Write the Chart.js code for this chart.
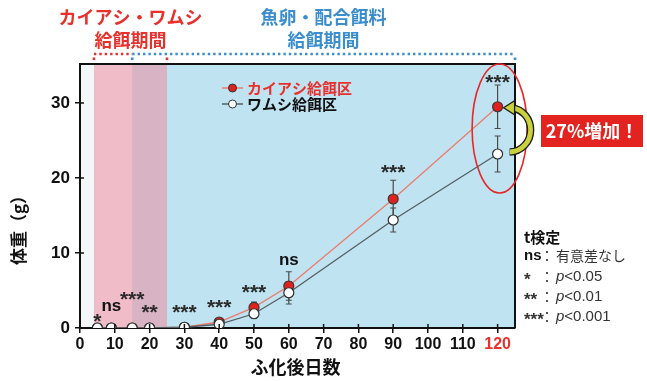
<!DOCTYPE html>
<html>
<head>
<meta charset="utf-8">
<script src="https://cdn.jsdelivr.net/npm/chart.js@4/dist/chart.umd.min.js"></script>
<style>
  html, body { margin: 0; padding: 0; background: #ffffff; }
  #wrap { width: 647px; height: 381px; position: relative; }
</style>
</head>
<body>
<div id="wrap"><canvas id="c"></canvas></div>
<script>
// Body weight (g) by days after hatching, mean ± SD
const days          = [5, 9, 15, 20, 30, 40, 50, 60, 90, 120];
const copepodMean   = [0, 0, 0, 0, 0.1, 0.8, 2.75, 5.6, 17.2, 29.5];
const copepodSD     = [0, 0, 0, 0, 0.05, 0.2, 0.7, 1.9, 2.5, 2.9];
const rotiferMean   = [0, 0, 0, 0, 0.1, 0.5, 1.9, 4.7, 14.4, 23.2];
const rotiferSD     = [0, 0, 0, 0, 0.05, 0.15, 0.6, 1.5, 1.6, 2.4];
const significance  = ['*', 'ns', '***', '**', '***', '***', '***', 'ns', '***', '***'];

const seriesNames   = ['カイアシ給餌区', 'ワムシ給餌区'];
const periodLines   = [['カイアシ・ワムシ', '給餌期間'], ['魚卵・配合餌料', '給餌期間']];
const periodStart   = [4, 15];
const periodEnd     = [25, 125];
const increaseText  = '27%増加！';
const testTitle     = 't検定';
const testKeys      = ['ns', '*', '**', '***'];
const testMeanings  = ['有意差なし', 'p<0.05', 'p<0.01', 'p<0.001'];
const xTitle        = 'ふ化後日数';
const yTitle        = '体重（g）';

// ---- styling ----
const JP  = '"Noto Sans CJK JP", "Noto Sans", sans-serif';
const NUM = '"Liberation Sans", Arial, sans-serif';
const RED = '#e8302c';
const BLUE = '#3b8dcc';
const INK = '#111111';
// lift (px) of each significance mark above the top whisker
const sigLift = [11, 21, 33, 20, 19, 17, 14, 10, 12, 7];

function X(chart, v) { return chart.scales.x.getPixelForValue(v); }
function Y(chart, v) { return chart.scales.y.getPixelForValue(v); }

const decor = {
  id: 'decor',
  beforeDraw(chart) {
    const { ctx, chartArea: a } = chart;
    ctx.save();
    ctx.fillStyle = '#f4f7f8';
    ctx.fillRect(a.left, a.top, a.width, a.height);
    // compound feed period (blue), live feed period (pink) on top
    ctx.fillStyle = '#bfe3f1';
    ctx.fillRect(X(chart, periodStart[1]), a.top, X(chart, periodEnd[1]) - X(chart, periodStart[1]), a.height);
    ctx.fillStyle = 'rgba(236,140,158,0.55)';
    ctx.fillRect(X(chart, periodStart[0]), a.top, X(chart, periodEnd[0]) - X(chart, periodStart[0]), a.height);

    // dotted period bars above the plot
    const yb = a.top - 10;
    ctx.lineWidth = 2.6;
    ctx.setLineDash([2.4, 3.0]);
    ctx.strokeStyle = RED;
    ctx.beginPath(); ctx.moveTo(X(chart, periodStart[0]), yb); ctx.lineTo(X(chart, periodStart[1]), yb); ctx.stroke();
    ctx.strokeStyle = BLUE;
    ctx.beginPath(); ctx.moveTo(X(chart, periodStart[1]), yb); ctx.lineTo(X(chart, periodEnd[1]), yb); ctx.stroke();
    ctx.setLineDash([]);
    const dot = (x, col) => { ctx.fillStyle = col; ctx.fillRect(x - 1.3, yb + 3.5, 2.6, 2.6); };
    dot(X(chart, periodStart[0]), RED);
    dot(X(chart, periodEnd[0]), RED);
    dot(X(chart, periodStart[1]), BLUE);
    dot(X(chart, periodEnd[1]), BLUE);

    // period headings
    ctx.font = `bold 18px ${JP}`;
    ctx.textAlign = 'center';
    ctx.textBaseline = 'middle';
    [RED, BLUE].forEach((col, k) => {
      const cx = (X(chart, periodStart[k]) + X(chart, periodEnd[k])) / 2;
      ctx.fillStyle = col;
      ctx.fillText(periodLines[k][0], cx, 17);
      ctx.fillText(periodLines[k][1], cx, 40);
    });
    ctx.restore();
  },
  beforeDatasetsDraw(chart) {
    const { ctx } = chart;
    ctx.save();
    ctx.strokeStyle = '#4a4a4a';
    ctx.lineWidth = 1.2;
    [[copepodMean, copepodSD], [rotiferMean, rotiferSD]].forEach(([m, s]) => {
      days.forEach((d, i) => {
        if (s[i] < 0.3) return;
        const x = X(chart, d), t = Y(chart, m[i] + s[i]), b = Y(chart, m[i] - s[i]);
        ctx.beginPath();
        ctx.moveTo(x, t); ctx.lineTo(x, b);
        ctx.moveTo(x - 3, t); ctx.lineTo(x + 3, t);
        ctx.moveTo(x - 3, b); ctx.lineTo(x + 3, b);
        ctx.stroke();
      });
    });
    ctx.restore();
  },
  afterDatasetsDraw(chart) {
    const { ctx, chartArea: a } = chart;
    ctx.save();
    // frame on top and right
    ctx.strokeStyle = INK;
    ctx.lineWidth = 2;
    ctx.beginPath();
    ctx.moveTo(a.left, a.top); ctx.lineTo(a.right, a.top); ctx.lineTo(a.right, a.bottom);
    ctx.stroke();
    // inner halves of the tick marks
    ctx.lineWidth = 1.5;
    chart.scales.x.ticks.forEach(t => {
      const x = X(chart, t.value);
      ctx.beginPath(); ctx.moveTo(x, a.bottom); ctx.lineTo(x, a.bottom - 4); ctx.stroke();
    });
    chart.scales.y.ticks.forEach(t => {
      const y = Y(chart, t.value);
      ctx.beginPath(); ctx.moveTo(a.left, y); ctx.lineTo(a.left + 4, y); ctx.stroke();
    });

    // significance marks
    ctx.textAlign = 'center';
    ctx.textBaseline = 'middle';
    days.forEach((d, i) => {
      const top = Math.max(copepodMean[i] + copepodSD[i], rotiferMean[i] + rotiferSD[i]);
      const cy = Y(chart, top) - sigLift[i];
      const lab = significance[i];
      if (lab === 'ns') {
        ctx.font = `bold 17px ${NUM}`;
        ctx.fillStyle = INK;
        ctx.fillText(lab, X(chart, d), cy - 1);
      } else {
        ctx.font = `bold 21px ${NUM}`;
        ctx.fillStyle = '#2b2b2b';
        ctx.fillText(lab, X(chart, d), cy + 5);
      }
    });

    // legend inside the plot
    const lx = 222, rows = [88, 104];
    const styles = [
      { line: '#ec7b6e', fill: '#e0211d', text: RED },
      { line: '#555f63', fill: '#ffffff', text: INK }
    ];
    rows.forEach((y, k) => {
      const st = styles[k];
      ctx.strokeStyle = st.line; ctx.lineWidth = 1.5;
      ctx.beginPath(); ctx.moveTo(lx, y); ctx.lineTo(lx + 21, y); ctx.stroke();
      ctx.beginPath(); ctx.arc(lx + 10.5, y, 4, 0, Math.PI * 2);
      ctx.fillStyle = st.fill; ctx.fill();
      ctx.strokeStyle = '#333'; ctx.lineWidth = 1; ctx.stroke();
      ctx.font = `bold 15px ${JP}`;
      ctx.textAlign = 'left';
      ctx.fillStyle = st.text;
      ctx.fillText(seriesNames[k], lx + 25, y);
    });

    // highlight of the final sampling day
    const last = days.length - 1;
    const xl = X(chart, days[last]);
    const yTop = Y(chart, copepodMean[last] + copepodSD[last]);
    const yBot = Y(chart, rotiferMean[last] - rotiferSD[last]);
    ctx.strokeStyle = '#e5282a';
    ctx.lineWidth = 1.6;
    ctx.beginPath();
    ctx.ellipse(xl + 2, (yTop + yBot) / 2, 27.5, (yBot - yTop) / 2 + 21, 0, 0, Math.PI * 2);
    ctx.stroke();

    // curved arrow from the rotifer mean to the copepod mean
    const yR = Y(chart, copepodMean[last]) + 1;
    const yW = Y(chart, rotiferMean[last]) - 2;
    const ax = xl + 12, acy = (yR + yW) / 2, ar = (yW - yR) / 2;
    ctx.lineCap = 'butt';
    ctx.strokeStyle = '#1d1d1d'; ctx.lineWidth = 7.5;
    ctx.beginPath(); ctx.ellipse(ax, acy, 21, ar, 0, Math.PI / 2, -Math.PI / 2 + 0.12, true); ctx.stroke();
    ctx.strokeStyle = '#c9d13c'; ctx.lineWidth = 4.8;
    ctx.beginPath(); ctx.ellipse(ax, acy, 21, ar, 0, Math.PI / 2 - 0.02, -Math.PI / 2 + 0.12, true); ctx.stroke();
    ctx.beginPath();
    ctx.moveTo(ax - 6, yR);
    ctx.lineTo(ax + 5, yR - 7);
    ctx.lineTo(ax + 5, yR + 7);
    ctx.closePath();
    ctx.fillStyle = '#c9d13c'; ctx.fill();
    ctx.strokeStyle = '#1d1d1d'; ctx.lineWidth = 1.3; ctx.stroke();

    // increase callout
    ctx.fillStyle = '#e3231f';
    ctx.fillRect(541, 115, 102, 32);
    ctx.fillStyle = '#ffffff';
    ctx.font = `bold 18px ${JP}`;
    ctx.textAlign = 'center';
    ctx.fillText(increaseText, 592, 131);
    ctx.restore();
  },
  afterDraw(chart) {
    const { ctx, chartArea: a } = chart;
    ctx.save();
    ctx.fillStyle = INK;
    ctx.textBaseline = 'middle';
    ctx.textAlign = 'center';
    ctx.font = `bold 18px ${JP}`;
    ctx.fillText(xTitle, (a.left + a.right) / 2 - 2, 367);
    ctx.translate(19, 226);
    ctx.rotate(-Math.PI / 2);
    ctx.font = `bold 17px ${JP}`;
    ctx.fillText(yTitle, 0, 0);
    ctx.restore();

    // test legend
    ctx.save();
    ctx.textBaseline = 'middle';
    ctx.textAlign = 'left';
    ctx.fillStyle = INK;
    ctx.font = `bold 15px ${JP}`;
    ctx.fillText(testTitle, 524, 237);
    const rowY = [256, 277, 297, 317];
    testKeys.forEach((k, i) => {
      const y = rowY[i];
      if (k === 'ns') {
        ctx.font = `bold 15px ${NUM}`; ctx.fillStyle = INK;
        ctx.fillText(k, 524, y);
      } else {
        ctx.font = `bold 17px ${NUM}`; ctx.fillStyle = '#333';
        ctx.fillText(k, 524, y + 3);
      }
      ctx.fillStyle = '#333';
      ctx.font = `14px ${JP}`;
      ctx.fillText('：', 540, y);
      const t = testMeanings[i];
      if (t.startsWith('p')) {
        ctx.font = `italic 15px ${NUM}`;
        ctx.fillText('p', 556, y);
        const w = ctx.measureText('p').width;
        ctx.font = `15px ${NUM}`;
        ctx.fillText(t.slice(1), 556 + w, y);
      } else {
        ctx.font = `14px ${JP}`;
        ctx.fillText(t, 556, y);
      }
    });
    ctx.restore();
  }
};

const chart = new Chart(document.getElementById('c'), {
  type: 'line',
  data: {
    datasets: [
      {
        label: seriesNames[1],
        data: days.map((d, i) => ({ x: d, y: rotiferMean[i] })),
        borderColor: '#555f63',
        borderWidth: 1.3,
        pointRadius: 5,
        pointBackgroundColor: '#ffffff',
        pointBorderColor: '#2e2e2e',
        pointBorderWidth: 1.2,
        tension: 0,
        order: 0
      },
      {
        label: seriesNames[0],
        data: days.map((d, i) => ({ x: d, y: copepodMean[i] })),
        borderColor: '#ec7b6e',
        borderWidth: 1.3,
        pointRadius: 5,
        pointBackgroundColor: '#e0211d',
        pointBorderColor: '#3a3a3a',
        pointBorderWidth: 1.2,
        tension: 0,
        order: 1
      }
    ]
  },
  options: {
    responsive: true,
    maintainAspectRatio: false,
    animation: false,
    devicePixelRatio: 1,
    layout: { padding: { top: 64, right: 132, left: 0, bottom: 0 } },
    plugins: { legend: { display: false }, tooltip: { enabled: false } },
    scales: {
      x: {
        type: 'linear',
        min: 0,
        max: 125,
        ticks: {
          stepSize: 10,
          includeBounds: false,
          autoSkip: false,
          maxRotation: 0,
          padding: 2,
          color: c => (c.tick && c.tick.value === 120 ? RED : INK),
          font: { family: NUM, size: 16, weight: 'bold' }
        },
        grid: { drawOnChartArea: false, color: INK, lineWidth: 1.5, tickLength: 5 },
        border: { color: INK, width: 2 },
        afterFit(s) { s.height = 53; }
      },
      y: {
        type: 'linear',
        min: 0,
        max: 35.2,
        ticks: {
          stepSize: 10,
          includeBounds: false,
          padding: 5,
          color: INK,
          font: { family: NUM, size: 17, weight: 'bold' }
        },
        grid: { drawOnChartArea: false, color: INK, lineWidth: 1.5, tickLength: 5 },
        border: { color: INK, width: 2 },
        afterFit(s) { s.width = 80; }
      }
    }
  },
  plugins: [decor]
});
</script>
</body>
</html>
